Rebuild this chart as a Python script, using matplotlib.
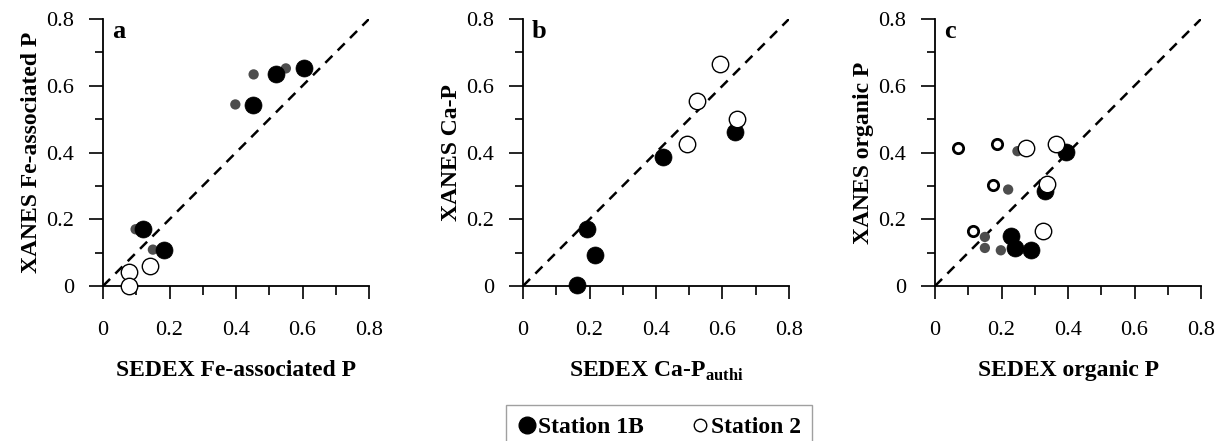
import matplotlib
matplotlib.use("Agg")
import matplotlib.pyplot as plt
from matplotlib.lines import Line2D
from matplotlib.ticker import MultipleLocator

plt.rcParams['font.family'] = ['Liberation Serif', 'DejaVu Serif']
plt.rcParams['mathtext.fontset'] = 'custom'
plt.rcParams['mathtext.rm'] = 'Liberation Serif'
plt.rcParams['mathtext.bf'] = 'Liberation Serif:bold'

# ---- data ----
# panel a: Fe-associated P
a_st1b_x = [0.120, 0.182, 0.450, 0.520, 0.605]
a_st1b_y = [0.172, 0.109, 0.542, 0.634, 0.652]
a_st1b_small_x = [0.098, 0.150, 0.398, 0.453, 0.550]
a_st1b_small_y = [0.170, 0.109, 0.544, 0.634, 0.652]
a_st2_x = [0.078, 0.078, 0.140]
a_st2_y = [0.042, 0.001, 0.059]
a_st2_small_x = []
a_st2_small_y = []

# panel b: Ca-P
b_st1b_x = [0.192, 0.217, 0.163, 0.420, 0.637]
b_st1b_y = [0.172, 0.094, 0.002, 0.387, 0.460]
b_st1b_small_x = []
b_st1b_small_y = []
b_st2_x = [0.592, 0.522, 0.645, 0.493]
b_st2_y = [0.665, 0.555, 0.499, 0.424]
b_st2_small_x = []
b_st2_small_y = []

# panel c: organic P
c_st1b_x = [0.395, 0.330, 0.230, 0.242, 0.288]
c_st1b_y = [0.402, 0.284, 0.150, 0.115, 0.107]
c_st1b_small_x = [0.248, 0.220, 0.150, 0.150, 0.198]
c_st1b_small_y = [0.404, 0.289, 0.147, 0.114, 0.107]
c_st2_x = [0.275, 0.363, 0.338, 0.325]
c_st2_y = [0.414, 0.425, 0.305, 0.165]
c_st2_small_x = [0.068, 0.185, 0.175, 0.115]
c_st2_small_y = [0.414, 0.424, 0.304, 0.165]

panels = [
    ('a', 'SEDEX Fe-associated P', 'XANES Fe-associated P',
     a_st1b_x, a_st1b_y, a_st1b_small_x, a_st1b_small_y, a_st2_x, a_st2_y, a_st2_small_x, a_st2_small_y),
    ('b', r'SEDEX Ca-P$_{\mathbf{authi}}$', 'XANES Ca-P',
     b_st1b_x, b_st1b_y, b_st1b_small_x, b_st1b_small_y, b_st2_x, b_st2_y, b_st2_small_x, b_st2_small_y),
    ('c', 'SEDEX organic P', 'XANES organic P',
     c_st1b_x, c_st1b_y, c_st1b_small_x, c_st1b_small_y, c_st2_x, c_st2_y, c_st2_small_x, c_st2_small_y),
]

W, H = 1225, 441
fig = plt.figure(figsize=(W / 100, H / 100), dpi=100)
lefts = [103, 523, 935]
ax_w, ax_h = 266, 267
ax_bottom = 286

tick_labels = ['0', '0.2', '0.4', '0.6', '0.8']
tick_vals = [0, 0.2, 0.4, 0.6, 0.8]

for left, p in zip(lefts, panels):
    (letter, xl, yl, sx, sy, ssx, ssy, ox, oy, osx, osy) = p
    ax = fig.add_axes([left / W, (H - ax_bottom) / H, ax_w / W, ax_h / H])
    ax.set_xlim(0, 0.8)
    ax.set_ylim(0, 0.8)
    ax.plot([0, 0.8], [0, 0.8], ls=(0, (4, 3)), color='black', lw=1.8, zorder=1)
    if ssx:
        ax.scatter(ssx, ssy, s=55, color='#4d4d4d', edgecolors='none', zorder=2, clip_on=False)
    if sx:
        ax.scatter(sx, sy, s=150, color='black', edgecolors='black', linewidths=0.5, zorder=3, clip_on=False)
    if osx:
        ax.scatter(osx, osy, s=55, facecolors='white', edgecolors='black', linewidths=2.0, zorder=4, clip_on=False)
    if ox:
        ax.scatter(ox, oy, s=140, facecolors='white', edgecolors='black', linewidths=1.0, zorder=5, clip_on=False)

    for s in ['top', 'right']:
        ax.spines[s].set_visible(False)
    for s in ['left', 'bottom']:
        ax.spines[s].set_linewidth(1.3)
    ax.set_xticks(tick_vals)
    ax.set_xticklabels(tick_labels)
    ax.set_yticks(tick_vals)
    ax.set_yticklabels(tick_labels)
    ax.xaxis.set_minor_locator(MultipleLocator(0.1))
    ax.yaxis.set_minor_locator(MultipleLocator(0.1))
    ax.tick_params(axis='x', which='major', direction='out', length=9.5, width=1.2, pad=16, labelsize=16)
    ax.tick_params(axis='y', which='major', direction='out', length=10, width=1.2, pad=11, labelsize=16)
    ax.tick_params(axis='x', which='minor', direction='out', length=6.5, width=1.2)
    ax.tick_params(axis='y', which='minor', direction='out', length=6, width=1.2)
    ax.set_xlabel(xl, fontsize=17, fontweight='bold', labelpad=14)
    ax.set_ylabel(yl, fontsize=17, fontweight='bold', labelpad=3)
    ax.text(0.034, 0.929, letter, transform=ax.transAxes, fontsize=19, fontweight='bold',
            va='baseline', ha='left')

handles = [
    Line2D([], [], ls='none', marker='o', markersize=12, markerfacecolor='black', markeredgecolor='black'),
    Line2D([], [], ls='none', marker='o', markersize=9, markerfacecolor='white', markeredgecolor='black', markeredgewidth=1.0),
]
leg = fig.legend(handles, ['Station 1B', 'Station 2'], loc='upper center',
                 bbox_to_anchor=(659 / W, 1 - 405 / H), ncol=2, frameon=True, fancybox=False,
                 prop={'family': 'Liberation Serif', 'weight': 'bold', 'size': 17},
                 handletextpad=0.05, columnspacing=2.0, borderpad=0.5, handlelength=0.8,
                 borderaxespad=0)
leg.get_frame().set_edgecolor('#888888')
leg.get_frame().set_linewidth(1.0)

fig.savefig('out.png', dpi=100)
